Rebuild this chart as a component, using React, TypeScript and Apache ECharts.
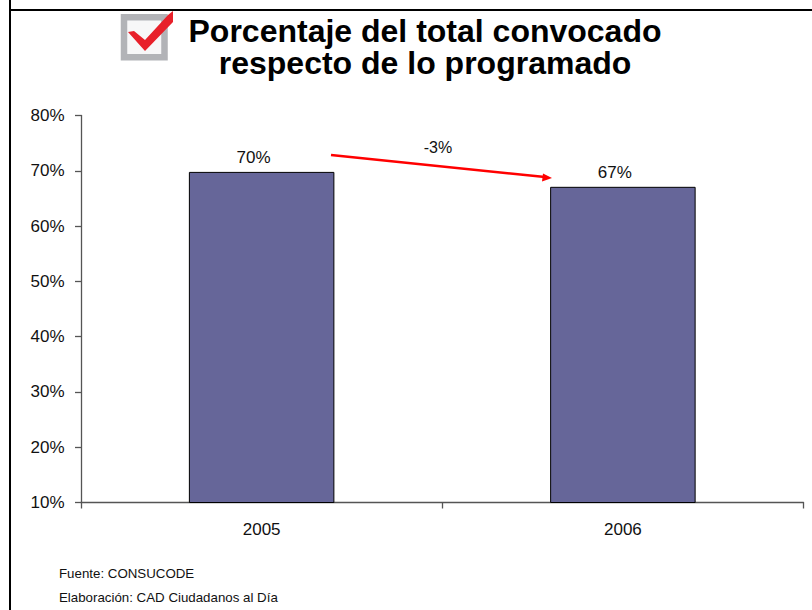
import React, { useEffect, useRef } from "react";
import * as echarts from "echarts";

const categories = ["2005", "2006"];
const percentValues = [69.8, 67.1];
const titleLines = ["Porcentaje del total convocado", "respecto de lo programado"];
const changeLabel = "-3%";
const sourceLines = ["Fuente: CONSUCODE", "Elaboración: CAD Ciudadanos al Día"];

const FONT = '"Liberation Sans", Arial, sans-serif';

export default function App() {
  const ref = useRef<HTMLDivElement>(null);
  useEffect(() => {
    document.body.style.margin = "0";
    const chart = echarts.init(ref.current!, null, { renderer: "svg" });
    chart.setOption({
      animation: false,
      backgroundColor: "#ffffff",
      textStyle: { fontFamily: FONT },
      title: {
        text: titleLines.join("\n"),
        left: 420,
        top: 9.5,
        textAlign: "center",
        textStyle: { fontFamily: FONT, fontWeight: "bold", fontSize: 32, lineHeight: 32, color: "#000000" },
      },
      grid: { left: 81, right: 8.5, top: 115.5, bottom: 107.5, containLabel: false },
      xAxis: {
        type: "category",
        data: categories,
        axisLine: { lineStyle: { color: "#555555", width: 1.3 } },
        axisTick: { show: true, length: 6, alignWithLabel: false, lineStyle: { color: "#555555", width: 1.3 } },
        axisLabel: { color: "#111111", fontSize: 17, fontFamily: FONT, margin: 18 },
      },
      yAxis: {
        type: "value",
        min: 10,
        max: 80,
        interval: 10,
        splitLine: { show: false },
        axisLine: { show: true, lineStyle: { color: "#555555", width: 1.3 } },
        axisTick: { show: true, length: 6, lineStyle: { color: "#555555", width: 1.3 } },
        axisLabel: {
          color: "#111111",
          fontSize: 17,
          fontFamily: FONT,
          margin: 16.5,
          padding: [2, 0, 0, 0],
          formatter: (v: number) => `${v}%`,
        },
      },
      series: [
        {
          type: "bar",
          data: percentValues,
          barWidth: 145.5,
          itemStyle: { color: "#666699", borderColor: "#000000", borderWidth: 1 },
          label: {
            show: true,
            position: "top",
            distance: 5,
            offset: [-8, -1],
            color: "#111111",
            fontSize: 17,
            fontFamily: FONT,
            formatter: (p: any) => `${Math.round(p.value)}%`,
          },
        },
      ],
      graphic: [
        { type: "line", shape: { x1: 10, y1: 0, x2: 10, y2: 610 }, style: { stroke: "#000000", lineWidth: 2 } },
        { type: "line", shape: { x1: 9, y1: 10, x2: 812, y2: 10 }, style: { stroke: "#000000", lineWidth: 2 } },
        { type: "rect", shape: { x: 124, y: 17.3, width: 40.5, height: 40 }, style: { fill: "#f7f7f8", stroke: "#b2b3b7", lineWidth: 6.5 } },
        {
          type: "polygon",
          shape: { points: [[128, 32], [134, 31], [145, 40], [168, 15], [173, 11], [173, 22], [145, 51]] },
          style: { fill: "#e8202a" },
        },
        { type: "line", shape: { x1: 331, y1: 155, x2: 545, y2: 177 }, style: { stroke: "#ff0000", lineWidth: 2.5 } },
        { type: "polygon", shape: { points: [[552, 178], [543, 173.5], [542, 181.5]] }, style: { fill: "#ff0000" } },
        {
          type: "text",
          x: 438,
          y: 147,
          style: { text: changeLabel, fill: "#111111", font: `16px ${FONT}`, textAlign: "center", textVerticalAlign: "middle" },
        },
        {
          type: "text",
          x: 59,
          y: 573,
          style: { text: sourceLines[0], fill: "#111111", font: `13.3px ${FONT}`, textAlign: "left", textVerticalAlign: "middle" },
        },
        {
          type: "text",
          x: 59,
          y: 597,
          style: { text: sourceLines[1], fill: "#111111", font: `13.3px ${FONT}`, textAlign: "left", textVerticalAlign: "middle" },
        },
      ],
    });
    return () => chart.dispose();
  }, []);
  return <div ref={ref} style={{ position: "absolute", left: 0, top: 0, width: 812, height: 610 }} />;
}
